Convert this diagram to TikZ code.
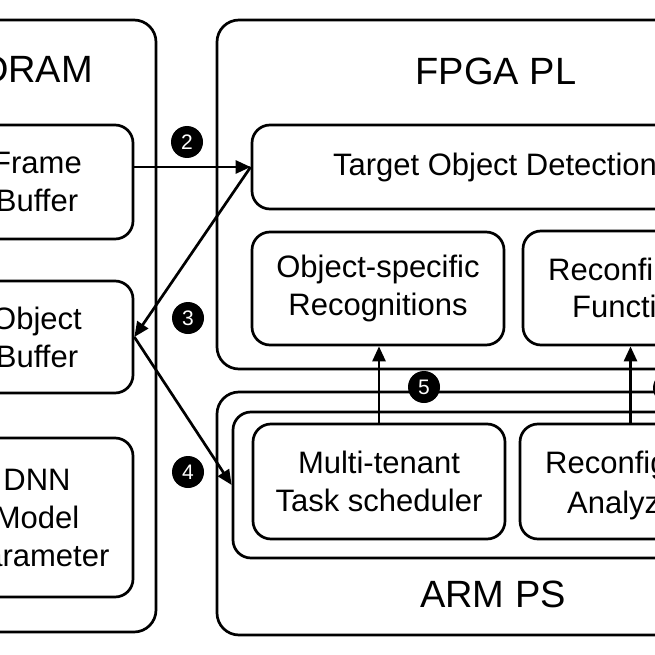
\documentclass[tikz,border=0pt]{standalone}
\usepackage{fontspec}
\setmainfont{Liberation Sans}
\usetikzlibrary{arrows.meta}
\begin{document}
\begin{tikzpicture}[x=1pt,y=-1pt,
  rbox/.style={draw, line width=2.7pt, rounded corners=18pt, inner sep=0pt, align=center, font=\fontsize{31}{38}\selectfont},
  obox/.style={draw, line width=2.7pt, rounded corners=22pt, inner sep=0pt},
  title/.style={font=\fontsize{38}{44}\selectfont, anchor=base, inner sep=0pt},
  lbl/.style={font=\fontsize{31}{38}\selectfont, anchor=base west, inner sep=0pt},
  num/.style={circle, fill=black, inner sep=0pt, minimum size=32pt, text=white, font=\fontsize{21}{21}\selectfont},
  arr/.style={line width=2.7pt, -{Triangle[length=15pt,width=13pt]}}]
\useasboundingbox (0,0) rectangle (655,655);
\clip (0,0) rectangle (655,655);
% outer regions
\node[obox, minimum width=238pt, minimum height=612pt] (dram) at (37,326) {};
\node[obox, minimum width=556pt, minimum height=349pt] (fpga) at (495,194.5) {};
\node[obox, minimum width=556pt, minimum height=243pt] (arm) at (495,513.5) {};
\node[obox, rounded corners=18pt, minimum width=524pt, minimum height=146pt] (inner) at (495,485) {};
% titles
\node[title] (tdram) at (37,83) {DRAM};
\node[title] (tfpga) at (496,85) {FPGA PL};
\node[title] (tarm) at (493,607) {ARM PS};
% DRAM boxes
\node[rbox, minimum width=192pt, minimum height=114pt] (fb) at (37,182) {Frame\\Buffer};
\node[rbox, minimum width=192pt, minimum height=112pt] (ob) at (37,337) {Object\\Buffer};
\node[rbox, minimum width=192pt, minimum height=159pt] (dnn) at (37,517.5) {DNN\\Model\\Parameter};
% FPGA boxes
\node[rbox, minimum width=486pt, minimum height=84pt] (tod) at (495,167) {Target Object Detection};
\node[rbox, minimum width=252pt, minimum height=113pt] (osr) at (378,288.5) {Object-specific\\Recognitions};
\node[rbox, minimum width=215pt, minimum height=114pt] (rf) at (630.5,288) {};
\node[lbl] (rf1) at (548,280) {Reconfi};
\node[lbl] (rf2) at (572,317) {Functi};
% ARM boxes
\node[rbox, minimum width=252pt, minimum height=115pt] (mt) at (379,481.5) {Multi-tenant\\Task scheduler};
\node[rbox, minimum width=217pt, minimum height=115pt] (ra) at (628.5,481.5) {};
\node[lbl] (ra1) at (545,473) {Reconfig};
\node[lbl] (ra2) at (567,513) {Analyz};
% connectors
\draw[arr] (tod.west -| fb.east) -- (tod.west);
\draw[arr] (tod.west) -- (ob.east);
\draw[arr] (ob.east) -- (inner.west);
\draw[arr] (mt.north) -- (mt.north |- osr.south);
\draw[arr] (ra.north -| rf.south) -- (rf.south);
% step numbers
\node[num] (n2) at (187,142) {2};
\node[num] (n3) at (188,318) {3};
\node[num] (n4) at (188,472) {4};
\node[num] (n5) at (424,387) {5};
\node[num] (n6) at (669,388) {};
\end{tikzpicture}
\end{document}
